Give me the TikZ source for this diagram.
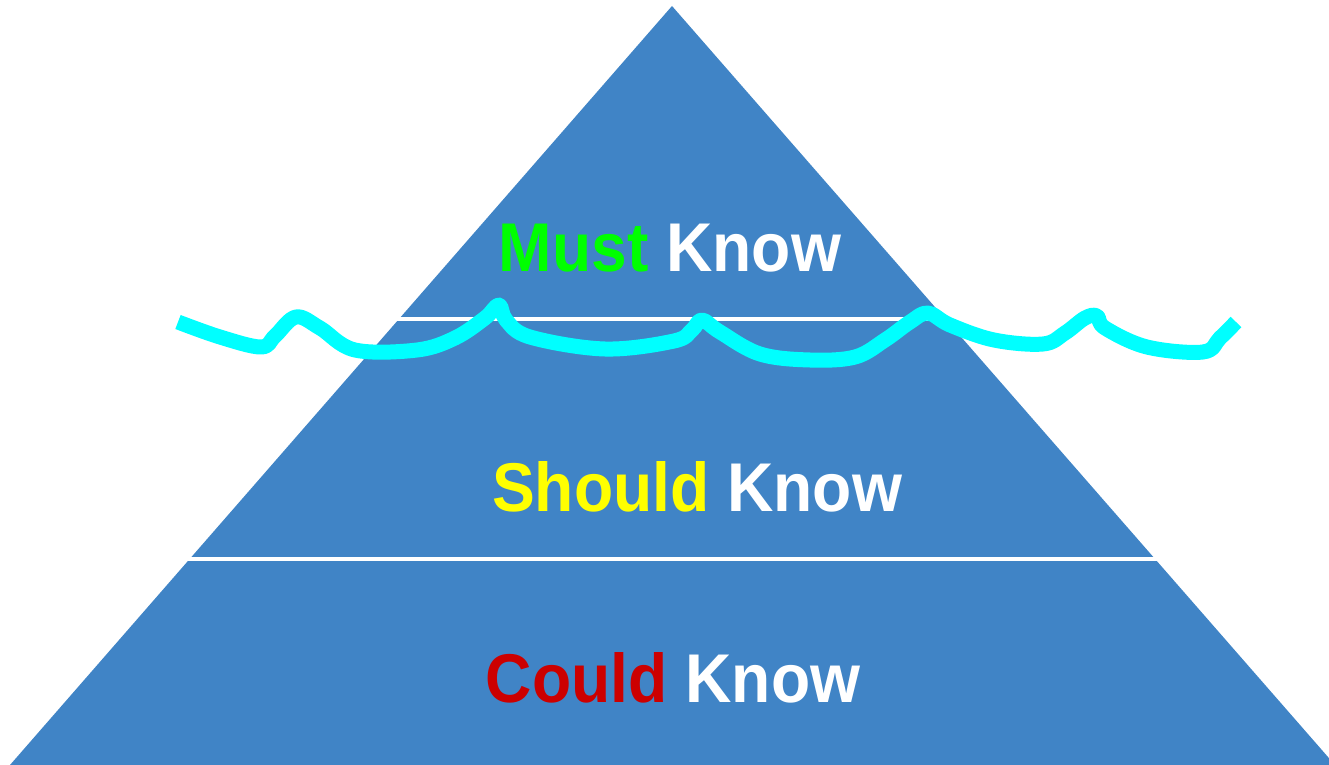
\documentclass[tikz,border=0pt]{standalone}
\usepackage{fontspec}
\setmainfont{Liberation Sans}
\definecolor{pyr}{RGB}{64,132,198}
\definecolor{wave}{RGB}{0,255,255}
\definecolor{mustc}{RGB}{0,255,0}
\definecolor{shouldc}{RGB}{255,255,0}
\definecolor{couldc}{RGB}{204,0,0}
\tikzset{
  lbl/.style={anchor=base, inner sep=0pt, text=white, font=\bfseries\fontsize{34.5}{40}\selectfont, xscale=0.93},
  sep/.style={draw=white, line width=2pt},
}
\begin{document}
\begin{tikzpicture}[x=0.5pt, y=-0.5pt]
\useasboundingbox (0,0) rectangle (1329,765);
\clip (0,0) rectangle (1329,765);
\fill[pyr] (672,6) -- (1335,765) -- (10,765) -- cycle;
\coordinate (s1l) at (396,319);
\coordinate (s1r) at (950,319);
\coordinate (s2l) at (186,559);
\coordinate (s2r) at (1160,559);
\draw[sep] (s1l) -- (s1r);
\draw[sep] (s2l) -- (s2r);
\node[lbl] (must) at (670,271) {\textcolor{mustc}{Must} Know};
\node[lbl] (should) at (697,511) {\textcolor{shouldc}{Should} Know};
\node[lbl] (could) at (673,702) {\textcolor{couldc}{Could} Know};
\draw[wave, line width=7.5pt, line join=round] plot[smooth, tension=0.6] coordinates {
(178,322) (220,337) (261,347) (275,336) (296,317) (320,328) (355,350) (417,350) (455,338) (485,318) (499,305) (506,320) (530,337) (605,349) (674,341) (692,330) (702,320) (720,332) (760,354) (810,360) (855,357) (885,340) (910,322) (928,313) (950,325) (994,340) (1043,344) (1065,333) (1085,318) (1097,316) (1105,328) (1147,347) (1203,352) (1220,338) (1236,322)};
\end{tikzpicture}
\end{document}
